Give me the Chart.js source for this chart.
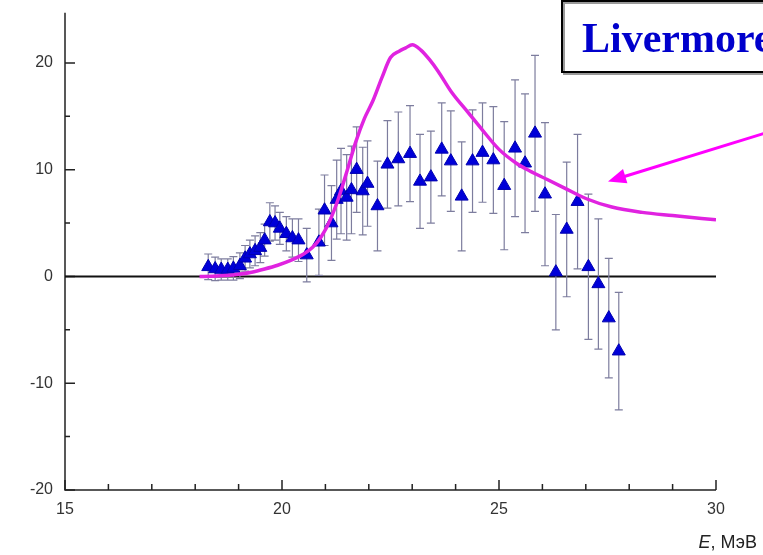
<!DOCTYPE html>
<html>
<head>
<meta charset="utf-8">
<script src="https://cdn.jsdelivr.net/npm/chart.js@4.4.1/dist/chart.umd.min.js"></script>
<style>
  html, body { margin: 0; padding: 0; background: #fff; }
</style>
</head>
<body>
<canvas id="chart" width="763" height="555"></canvas>
<script>
// Измеренные точки: энергия (МэВ), значение и полуширина погрешности
const energies = [18.30, 18.46, 18.60, 18.75, 18.88, 19.03, 19.15, 19.26, 19.38, 19.50,
  19.60, 19.72, 19.84, 19.95, 20.10, 20.24, 20.38, 20.57, 20.85, 20.98,
  21.14, 21.26, 21.36, 21.49, 21.60, 21.72, 21.86, 21.97, 22.20, 22.43,
  22.68, 22.95, 23.18, 23.43, 23.68, 23.89, 24.14, 24.39, 24.62, 24.87,
  25.12, 25.37, 25.60, 25.83, 26.06, 26.31, 26.56, 26.81, 27.06, 27.29,
  27.53, 27.76];
const values = [0.9, 0.7, 0.65, 0.65, 0.75, 1.0, 1.7, 2.1, 2.4, 2.7,
  3.4, 5.1, 5.0, 4.5, 4.0, 3.6, 3.4, 2.0, 3.2, 6.2,
  5.0, 7.2, 8.0, 7.4, 8.1, 10.0, 8.0, 8.7, 6.6, 10.5,
  11.0, 11.5, 8.9, 9.3, 11.9, 10.8, 7.5, 10.8, 11.6, 10.9,
  8.5, 12.0, 10.6, 13.4, 7.7, 0.4, 4.4, 7.0, 0.9, -0.7,
  -3.9, -7.0];
const errors = [1.2, 1.1, 1.0, 1.0, 1.1, 1.2, 1.2, 1.3, 1.4, 1.4,
  1.5, 1.8, 1.6, 1.5, 1.6, 1.8, 2.0, 2.5, 3.1, 3.3,
  3.5, 3.7, 4.0, 4.0, 4.1, 4.0, 4.1, 4.0, 4.2, 4.1,
  4.4, 4.5, 4.4, 4.3, 4.35, 4.7, 5.1, 4.8, 4.65, 5.0,
  6.0, 6.4, 6.5, 7.3, 6.7, 5.4, 6.3, 6.3, 6.8, 6.1,
  5.6, 5.5];

// Расчёт Livermore
const livermoreE = [18.1, 18.4, 18.7, 19.0, 19.3, 19.6, 19.9, 20.2, 20.5, 20.7,
  20.9, 21.1, 21.3, 21.5, 21.7, 21.9, 22.1, 22.3, 22.5, 22.7,
  22.85, 23.0, 23.2, 23.4, 23.6, 23.9, 24.3, 24.6, 25.0, 25.4,
  25.7, 26.1, 26.5, 27.0, 27.6, 28.3, 29.0, 30.0];
const livermoreY = [0, 0.02, 0.08, 0.2, 0.4, 0.7, 1.05, 1.5, 2.1, 2.7,
  3.7, 5.2, 7.3, 9.9, 12.6, 14.8, 16.5, 18.6, 20.5, 21.1,
  21.4, 21.7, 21.2, 20.3, 19.2, 17.3, 15.3, 13.8, 11.9, 10.6,
  9.9, 9.1, 8.3, 7.3, 6.5, 6.0, 5.7, 5.3];

// Подписи осей
const xTicks = [15, 20, 25, 30];
const xMinor = [16, 17, 18, 19, 21, 22, 23, 24, 26, 27, 28, 29];
const yTicks = [-20, -10, 0, 10, 20];
const yMinor = [-15, -5, 5, 15];

const AXIS = '#222';

// Оси, засечки внутрь, нулевая линия и погрешности
const framePlugin = {
  id: 'frame',
  beforeDatasetsDraw(chart) {
    const { ctx, chartArea: a, scales: { x, y } } = chart;
    ctx.save();
    ctx.strokeStyle = AXIS;
    ctx.lineWidth = 1.5;
    ctx.beginPath();
    ctx.moveTo(a.left, a.top);
    ctx.lineTo(a.left, a.bottom);
    ctx.lineTo(a.right, a.bottom);
    ctx.stroke();

    ctx.beginPath();
    yTicks.forEach(v => { const py = y.getPixelForValue(v); ctx.moveTo(a.left, py); ctx.lineTo(a.left + 10, py); });
    yMinor.forEach(v => { const py = y.getPixelForValue(v); ctx.moveTo(a.left, py); ctx.lineTo(a.left + 5, py); });
    xTicks.forEach(v => { const px = x.getPixelForValue(v); ctx.moveTo(px, a.bottom); ctx.lineTo(px, a.bottom - 10); });
    xMinor.forEach(v => { const px = x.getPixelForValue(v); ctx.moveTo(px, a.bottom); ctx.lineTo(px, a.bottom - 6); });
    ctx.stroke();

    // нулевая линия
    ctx.lineWidth = 2;
    ctx.strokeStyle = '#111';
    ctx.beginPath();
    const y0 = y.getPixelForValue(0);
    ctx.moveTo(a.left, y0);
    ctx.lineTo(a.right, y0);
    ctx.stroke();

    // погрешности
    ctx.strokeStyle = '#7d7d9e';
    ctx.lineWidth = 1.2;
    ctx.beginPath();
    energies.forEach((e, i) => {
      const px = x.getPixelForValue(e);
      const top = y.getPixelForValue(values[i] + errors[i]);
      const bot = y.getPixelForValue(values[i] - errors[i]);
      ctx.moveTo(px, top); ctx.lineTo(px, bot);
      ctx.moveTo(px - 4, top); ctx.lineTo(px + 4, top);
      ctx.moveTo(px - 4, bot); ctx.lineTo(px + 4, bot);
    });
    ctx.stroke();
    ctx.restore();
  },
  afterDraw(chart) {
    const { ctx } = chart;
    ctx.save();

    // рамка с подписью
    ctx.fillStyle = '#fff';
    ctx.fillRect(562, 1, 240, 71);
    ctx.strokeStyle = '#999';
    ctx.lineWidth = 2;
    ctx.strokeRect(564, 3, 240, 71);
    ctx.strokeStyle = '#000';
    ctx.lineWidth = 2;
    ctx.strokeRect(562, 1, 240, 71);
    ctx.fillStyle = '#0000cc';
    ctx.font = 'bold 42px "Liberation Serif", "Times New Roman", serif';
    ctx.textAlign = 'left';
    ctx.textBaseline = 'alphabetic';
    ctx.fillText('Livermore', 582, 52);

    // стрелка к кривой
    const tipX = 608, tipY = 181.5, fromX = 775, fromY = 130;
    const ang = Math.atan2(tipY - fromY, tipX - fromX);
    ctx.strokeStyle = '#ff00ff';
    ctx.fillStyle = '#ff00ff';
    ctx.lineWidth = 3;
    ctx.beginPath();
    ctx.moveTo(fromX, fromY);
    ctx.lineTo(tipX - 12 * Math.cos(ang), tipY - 12 * Math.sin(ang));
    ctx.stroke();
    ctx.beginPath();
    ctx.moveTo(tipX, tipY);
    ctx.lineTo(tipX - 18 * Math.cos(ang) + 7.5 * Math.sin(ang), tipY - 18 * Math.sin(ang) - 7.5 * Math.cos(ang));
    ctx.lineTo(tipX - 18 * Math.cos(ang) - 7.5 * Math.sin(ang), tipY - 18 * Math.sin(ang) + 7.5 * Math.cos(ang));
    ctx.closePath();
    ctx.fill();

    // подпись оси X: E, МэВ
    ctx.fillStyle = '#222';
    ctx.textBaseline = 'alphabetic';
    ctx.textAlign = 'left';
    ctx.font = 'italic 18px "Liberation Sans", Arial, sans-serif';
    const eW = ctx.measureText('E').width;
    ctx.font = '18px "Liberation Sans", Arial, sans-serif';
    const restW = ctx.measureText(', МэВ').width;
    const startX = 757 - eW - restW;
    ctx.font = 'italic 18px "Liberation Sans", Arial, sans-serif';
    ctx.fillText('E', startX, 548);
    ctx.font = '18px "Liberation Sans", Arial, sans-serif';
    ctx.fillText(', МэВ', startX + eW, 548);
    ctx.restore();
  }
};

const data = {
  datasets: [
    {
      label: 'Livermore',
      data: livermoreE.map((e, i) => ({ x: e, y: livermoreY[i] })),
      showLine: true,
      borderColor: '#e023e0',
      borderWidth: 3.5,
      pointRadius: 0,
      tension: 0.4,
      cubicInterpolationMode: 'monotone',
      order: 0
    },
    {
      label: 'Эксперимент',
      data: energies.map((e, i) => ({ x: e, y: values[i] })),
      pointStyle: 'triangle',
      pointRadius: 7.5,
      backgroundColor: '#0000d8',
      borderColor: '#0000b0',
      borderWidth: 1,
      order: 1
    }
  ]
};

new Chart(document.getElementById('chart'), {
  type: 'scatter',
  data: data,
  plugins: [framePlugin],
  options: {
    responsive: false,
    animation: false,
    layout: { padding: { top: 12.7, right: 47, left: 0, bottom: 0 } },
    plugins: { legend: { display: false }, tooltip: { enabled: false } },
    scales: {
      x: {
        type: 'linear',
        min: 15, max: 30,
        afterFit(scale) {
          scale.height = 65;
          scale.paddingLeft = 0;
          scale.paddingRight = 0;
        },
        afterBuildTicks(scale) { scale.ticks = xTicks.map(v => ({ value: v })); },
        grid: { display: false, drawTicks: false },
        border: { display: false },
        ticks: { color: '#333', padding: 10, font: { family: '"Liberation Sans", Arial, sans-serif', size: 16 } }
      },
      y: {
        type: 'linear',
        min: -20, max: 24.7,
        afterFit(scale) {
          scale.width = 65;
          scale.paddingTop = 0;
          scale.paddingBottom = 0;
        },
        afterBuildTicks(scale) { scale.ticks = yTicks.map(v => ({ value: v })); },
        grid: { display: false, drawTicks: false },
        border: { display: false },
        ticks: { color: '#333', padding: 12, font: { family: '"Liberation Sans", Arial, sans-serif', size: 16 } }
      }
    }
  }
});
</script>
</body>
</html>
